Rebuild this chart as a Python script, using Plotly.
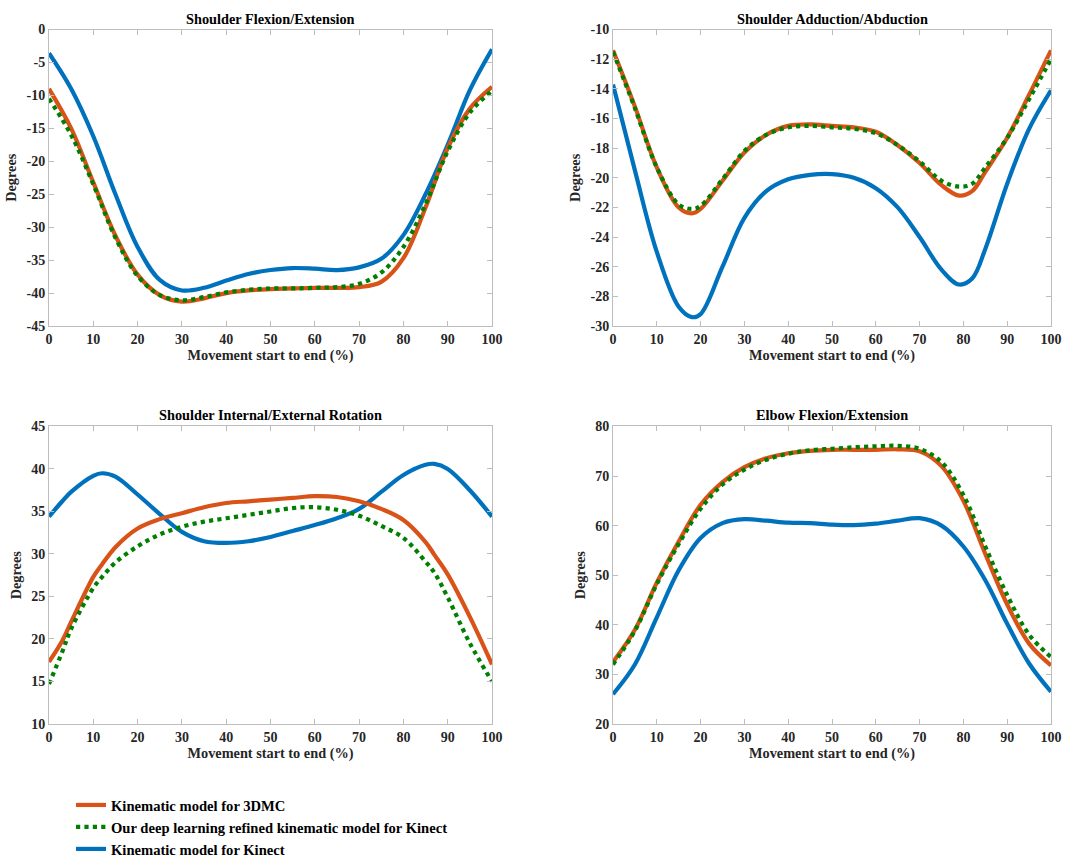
import plotly.graph_objects as go

x = [0, 5, 10, 15, 20, 25, 30, 35, 40, 45, 50, 55, 60, 65, 70, 75, 80, 85, 90, 95, 100]

# Panel 1: Shoulder Flexion/Extension
sfe_3dmc = [-9, -15, -23.2, -31.3, -37.2, -40.3, -41.3, -40.8, -40.0, -39.6, -39.4, -39.3, -39.2, -39.2, -39.1, -38.3, -34.7, -27.0, -18.0, -12.0, -8.7]
sfe_dl = [-10.5, -16, -23.5, -31.6, -37.4, -40.3, -41.1, -40.6, -39.9, -39.5, -39.3, -39.3, -39.2, -39.1, -38.6, -36.9, -33.0, -26.5, -18.5, -12.6, -9.3]
sfe_kin = [-3.6, -9.0, -16.2, -25.0, -33.0, -38.0, -39.6, -39.2, -38.1, -37.1, -36.5, -36.2, -36.3, -36.5, -36.1, -34.8, -31.2, -25.0, -17.5, -9.2, -3.0]

# Panel 2: Shoulder Adduction/Abduction
x2 = [0, 5, 10, 15, 18, 20, 25, 30, 35, 40, 45, 50, 55, 60, 65, 70, 75, 79, 82, 85, 90, 95, 100]
saa_3dmc = [-11.4, -15.2, -19.3, -22.0, -22.4, -22.1, -20.2, -18.3, -17.1, -16.5, -16.4, -16.5, -16.6, -16.9, -17.8, -19.0, -20.5, -21.2, -20.9, -19.6, -17.3, -14.4, -11.4]
saa_dl = [-11.5, -15.3, -19.3, -21.8, -22.1, -21.9, -20.1, -18.2, -17.1, -16.6, -16.5, -16.6, -16.7, -17.0, -17.8, -18.9, -20.2, -20.6, -20.4, -19.3, -17.3, -14.7, -12.0]
saa_kin = [-13.7, -19.5, -25.0, -28.7, -29.4, -29.2, -26.0, -22.7, -20.9, -20.1, -19.8, -19.75, -20.0, -20.7, -22.0, -24.0, -26.2, -27.2, -26.8, -24.8, -20.4, -16.7, -14.1]

# Panel 3: Shoulder Internal/External Rotation
x3 = [0, 3, 5, 10, 12, 15, 20, 25, 30, 35, 40, 45, 50, 55, 60, 65, 70, 75, 80, 85, 87, 90, 95, 100]
sie_3dmc = [17.3, 19.8, 22.0, 27.3, 28.8, 30.8, 33.0, 34.1, 34.8, 35.5, 36.0, 36.2, 36.4, 36.6, 36.8, 36.7, 36.2, 35.3, 34.0, 31.4, 29.9, 27.6, 22.6, 17.0]
sie_dl = [14.7, 18.5, 21.2, 26.0, 27.3, 29.0, 30.9, 32.3, 33.2, 33.8, 34.2, 34.6, 35.0, 35.4, 35.5, 35.2, 34.5, 33.3, 31.9, 29.1, 27.8, 24.9, 19.5, 15.0]
sie_kin = [34.4, 36.2, 37.3, 39.2, 39.5, 39.1, 37.0, 34.7, 32.6, 31.5, 31.3, 31.5, 32.0, 32.7, 33.4, 34.2, 35.3, 37.3, 39.3, 40.5, 40.6, 40.0, 37.5, 34.4]

# Panel 4: Elbow Flexion/Extension
efe_3dmc = [32.5, 39.0, 48.5, 56.8, 64.2, 68.8, 71.8, 73.6, 74.6, 75.1, 75.3, 75.3, 75.3, 75.4, 75.0, 72.0, 65.0, 54.3, 44.1, 36.2, 31.8]
efe_dl = [32.0, 38.8, 48.2, 56.3, 63.4, 68.3, 71.3, 73.3, 74.5, 75.2, 75.5, 75.8, 76.0, 76.1, 75.5, 72.8, 66.2, 55.8, 46.0, 38.0, 33.5]
efe_kin = [26.0, 32.0, 41.5, 51.0, 57.5, 60.5, 61.3, 61.0, 60.6, 60.5, 60.2, 60.1, 60.4, 61.0, 61.5, 60.0, 55.8, 49.0, 40.2, 32.2, 26.5]

titles = ["Shoulder Flexion/Extension", "Shoulder Adduction/Abduction",
          "Shoulder Internal/External Rotation", "Elbow Flexion/Extension"]
y_ranges = [(-45, 0), (-30, -10), (10, 45), (20, 80)]
y_ticks = [
    [-45, -40, -35, -30, -25, -20, -15, -10, -5, 0],
    [-30, -28, -26, -24, -22, -20, -18, -16, -14, -12, -10],
    [10, 15, 20, 25, 30, 35, 40, 45],
    [20, 30, 40, 50, 60, 70, 80],
]
x_ticks = [0, 10, 20, 30, 40, 50, 60, 70, 80, 90, 100]
names = ["Kinematic model for 3DMC",
         "Our deep learning refined kinematic model for Kinect",
         "Kinematic model for Kinect"]
colors = ["#D95319", "#008000", "#0072BD"]
dashes = ["solid", "dot", "solid"]

panels = [
    (x, [sfe_3dmc, sfe_dl, sfe_kin]),
    (x2, [saa_3dmc, saa_dl, saa_kin]),
    (x3, [sie_3dmc, sie_dl, sie_kin]),
    (x, [efe_3dmc, efe_dl, efe_kin]),
]

W, H = 1069, 865


def px(v):
    return v / W


def py(v):
    return 1 - v / H


xdoms = [(px(49), px(492)), (px(613), px(1051))]
ydoms = [(py(331), py(30)), (py(735), py(433))]

FONT = "Liberation Serif"
fig = go.Figure()
layout = {}
for i, (xs, series) in enumerate(panels):
    r, c = divmod(i, 2)
    ax = "" if i == 0 else str(i + 1)
    order = [2, 0, 1]
    for k in order:
        fig.add_trace(go.Scatter(
            x=xs, y=series[k], mode="lines", name=names[k],
            line=dict(color=colors[k], width=4.2, dash=dashes[k], shape="spline", smoothing=1.0),
            xaxis="x" + ax, yaxis="y" + ax,
            showlegend=(i == 0), legendrank=k + 1,
        ))
    axis_common = dict(
        showline=True, mirror="ticks", linecolor="#bdbdbd", linewidth=1,
        ticks="inside", tickcolor="#bdbdbd", ticklen=5, showgrid=False, zeroline=False,
        automargin=False, ticklabeloverflow="allow",
        tickfont=dict(family=FONT, size=14, color="#262626", weight="bold"),
    )
    layout["xaxis" + ax] = dict(
        domain=xdoms[c], anchor="y" + ax, range=[0, 100],
        tickmode="array", tickvals=x_ticks, ticktext=[str(v) for v in x_ticks],
        title=dict(text="Movement start to end (%)", standoff=0,
                   font=dict(family=FONT, size=14.3, color="#262626", weight="bold")),
        **axis_common)
    layout["yaxis" + ax] = dict(
        domain=ydoms[r], anchor="x" + ax, range=list(y_ranges[i]),
        tickmode="array", tickvals=y_ticks[i], ticktext=[str(v) for v in y_ticks[i]],
        title=dict(text="Degrees", standoff=6,
                   font=dict(family=FONT, size=14.3, color="#262626", weight="bold")),
        **axis_common)

annotations = []
for i, t in enumerate(titles):
    r, c = divmod(i, 2)
    annotations.append(dict(
        text=t, x=(xdoms[c][0] + xdoms[c][1]) / 2, y=ydoms[r][1], xref="paper", yref="paper",
        xanchor="center", yanchor="bottom", yshift=1, showarrow=False,
        font=dict(family=FONT, size=14.3, color="#000000", weight="bold")))

fig.update_layout(
    width=W, height=H, margin=dict(l=0, r=0, t=0, b=0),
    paper_bgcolor="white", plot_bgcolor="white",
    font=dict(family=FONT, color="#262626"),
    annotations=annotations,
    legend=dict(x=px(71), y=py(801), xanchor="left", yanchor="top",
                traceorder="normal", bgcolor="rgba(0,0,0,0)",
                font=dict(family=FONT, size=14.6, color="#000000", weight="bold"),
                itemwidth=30, tracegroupgap=0),
    **layout,
)

fig.write_html(
    "out.html",
    config={"displayModeBar": False},
    post_script=(
        "document.documentElement.style.margin='0';"
        "document.body.style.margin='0';"
        "document.body.style.overflow='hidden';"
        "document.documentElement.style.overflow='hidden';"
        "var d=document.getElementById('{plot_id}');"
        "d.style.position='fixed';d.style.left='0px';d.style.top='0px';"
    ),
)
